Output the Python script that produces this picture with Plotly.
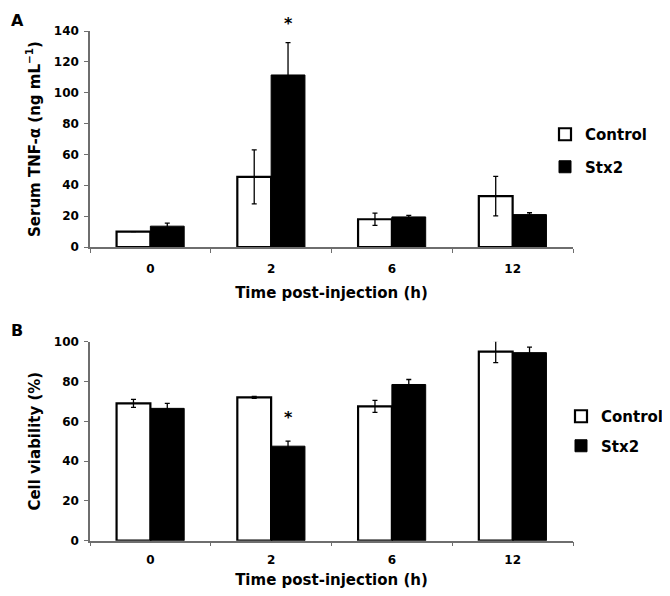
import plotly.graph_objects as go

categories = ["0", "2", "6", "12"]

# Panel A: Serum TNF-alpha (ng/mL)
tnf_control = [10, 45.5, 18, 33]
tnf_control_err = [0, 17.5, 4, 12.8]
tnf_stx2 = [13.5, 111.5, 19.5, 21]
tnf_stx2_err = [2, 21, 1, 1.2]

# Panel B: Cell viability (%)
via_control = [69, 72, 67.5, 95]
via_control_err = [2, 0.5, 3, 5.5]
via_stx2 = [66.5, 47.5, 78.5, 94.5]
via_stx2_err = [2.5, 2.5, 2.5, 2.8]

FONT = "DejaVu Sans"
AXC = "#6e6e6e"

# the page body has an 8px margin; the figure fills the rest of the window
OFF = 8
W, H = 670 - OFF, 596 - OFF


def fx(px):
    return (px - OFF) / W


def fy(py):
    return 1 - (py - OFF) / H


fig = go.Figure()


def add_pair(ctrl, ctrl_err, stx, stx_err, xa, ya, leg, tag):
    fig.add_trace(go.Bar(
        x=categories, y=ctrl, name="Control", xaxis=xa, yaxis=ya,
        marker=dict(color="white", line=dict(color="black", width=2.2)),
        error_y=dict(type="data", array=ctrl_err, color="black", thickness=1.3, width=2.5),
        legend=leg, legendgroup="c" + tag,
    ))
    fig.add_trace(go.Bar(
        x=categories, y=stx, name="Stx2", xaxis=xa, yaxis=ya,
        marker=dict(color="black", line=dict(color="black", width=1)),
        error_y=dict(type="data", array=stx_err, color="black", thickness=1.3, width=2.5),
        legend=leg, legendgroup="s" + tag,
    ))


add_pair(tnf_control, tnf_control_err, tnf_stx2, tnf_stx2_err, "x", "y", "legend", "A")
add_pair(via_control, via_control_err, via_stx2, via_stx2_err, "x2", "y2", "legend2", "B")

xdom = [fx(90), fx(573)]
ydomA = [fy(247), fy(31)]
ydomB = [fy(540.7), fy(341.7)]

tickfont = dict(family=FONT, size=12, color="black", weight="bold")
titlefont = dict(family=FONT, size=15, color="black", weight="bold")

xcommon = dict(
    type="category", tickson="boundaries", ticks="outside", ticklen=4,
    tickcolor=AXC, showline=True, linecolor=AXC, linewidth=1.5,
    showgrid=False, tickfont=tickfont, automargin=False,
    domain=xdom, range=[-0.5, 3.5],
)
ycommon = dict(
    ticks="outside", ticklen=4, tickcolor=AXC, showline=True, linecolor=AXC, linewidth=1.5,
    showgrid=False, zeroline=False, tickfont=tickfont, automargin=False,
    ticklabelstandoff=3,
)

legcommon = dict(xanchor="left", yanchor="top", font=titlefont, itemwidth=30,
                 bgcolor="rgba(0,0,0,0)")

fig.update_layout(
    width=W, height=H,
    margin=dict(l=0, r=0, t=0, b=0, autoexpand=False),
    plot_bgcolor="white", paper_bgcolor="white",
    barmode="group", bargap=0.44, bargroupgap=0,
    xaxis=dict(**xcommon, anchor="y", ticklabelstandoff=10,
               title=dict(text="Time post-injection (h)", font=titlefont, standoff=12)),
    xaxis2=dict(**xcommon, anchor="y2", ticklabelstandoff=7,
                title=dict(text="Time post-injection (h)", font=titlefont, standoff=9)),
    yaxis=dict(**ycommon, domain=ydomA, range=[0, 140], dtick=20, anchor="x",
               title=dict(text="Serum TNF-α (ng mL<sup>−1</sup>)", font=titlefont, standoff=10)),
    yaxis2=dict(**ycommon, domain=ydomB, range=[0, 100], dtick=20, anchor="x2",
                title=dict(text="Cell viability (%)", font=titlefont, standoff=10)),
    legend=dict(**legcommon, x=fx(545), y=fy(118), tracegroupgap=10),
    legend2=dict(**legcommon, x=fx(561), y=fy(400), tracegroupgap=7),
    annotations=[
        dict(text="A", x=fx(9), y=fy(9), xref="paper", yref="paper", xanchor="left", yanchor="top",
             showarrow=False, font=dict(family=FONT, size=16, color="black", weight="bold")),
        dict(text="B", x=fx(9), y=fy(319), xref="paper", yref="paper", xanchor="left", yanchor="top",
             showarrow=False, font=dict(family=FONT, size=16, color="black", weight="bold")),
        dict(text="*", x=1.14, y=tnf_stx2[1] + tnf_stx2_err[1], xref="x", yref="y", yanchor="bottom", yshift=8,
             showarrow=False, font=dict(family=FONT, size=16, color="black", weight="bold")),
        dict(text="*", x=1.14, y=via_stx2[1] + via_stx2_err[1], xref="x2", yref="y2", yanchor="bottom", yshift=12,
             showarrow=False, font=dict(family=FONT, size=16, color="black", weight="bold")),
    ],
)

fig.write_html("out.html")
